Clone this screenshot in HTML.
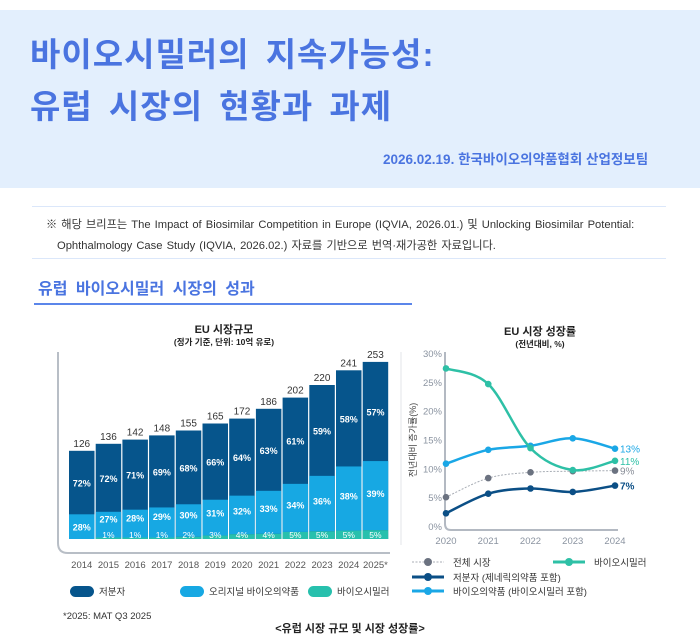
<!DOCTYPE html>
<html><head><meta charset="utf-8"><style>
body{margin:0;width:700px;height:638px;background:#fff;font-family:"Liberation Sans","Noto Sans CJK KR",sans-serif;position:relative;overflow:hidden}
.hdr{position:absolute;left:0;top:10px;width:700px;height:178px;background:#e3effd}
.t{position:absolute;left:30px;color:#4a74e0;font-weight:bold;font-size:33px;letter-spacing:1px;word-spacing:6px;white-space:nowrap}
.date{position:absolute;left:383px;top:148px;color:#4a74e0;font-weight:bold;font-size:13.5px;white-space:nowrap}
.hl{position:absolute;left:32px;width:634px;height:1px;background:#dbe7fa}
.note{position:absolute;left:46px;font-size:11.2px;color:#333;white-space:nowrap;word-spacing:1px}
.sec{position:absolute;left:38px;top:280px;color:#4a74e0;font-size:16px;font-weight:bold;white-space:nowrap;word-spacing:4px;line-height:20px}
.secl{position:absolute;left:34px;top:303px;width:378px;height:2px;background:#5b86ea}
svg{position:absolute;left:0;top:0}
</style></head><body>
<div class="hdr"></div>
<div class="t" style="top:28px">바이오시밀러의 지속가능성:</div>
<div class="t" style="top:80px">유럽 시장의 현황과 과제</div>
<div class="date">2026.02.19. 한국바이오의약품협회 산업정보팀</div>
<div class="hl" style="top:206px"></div>
<div class="note" style="top:216px">※ 해당 브리프는 The Impact of Biosimilar Competition in Europe (IQVIA, 2026.01.) 및 Unlocking Biosimilar Potential:</div>
<div class="note" style="top:237px;left:57px">Ophthalmology Case Study (IQVIA, 2026.02.) 자료를 기반으로 번역·재가공한 자료입니다.</div>
<div class="hl" style="top:258px"></div>
<div class="sec">유럽 바이오시밀러 시장의 성과</div>
<div class="secl"></div>
<svg id="s" width="700" height="638" font-family="Liberation Sans, Noto Sans CJK KR, sans-serif"></svg>
<script>
const s=document.getElementById('s');let h='';
h+='<text x="224" y="333" text-anchor="middle" font-size="11" font-weight="bold" fill="#222">EU 시장규모</text>';
h+='<text x="224" y="345" text-anchor="middle" font-size="8.5" font-weight="bold" fill="#222">(정가 기준, 단위: 10억 유로)</text>';
h+='<path d="M58 352 V543 Q58 553 68 553 H390" fill="none" stroke="#b8bec6" stroke-width="2"/>';
h+='<line x1="401" y1="352" x2="401" y2="545" stroke="#e3e6ea" stroke-width="1"/>';
const v=[126,136,142,148,155,165,172,186,202,220,241,253],sm=[72,72,71,69,68,66,64,63,61,59,58,57],
o=[28,27,28,29,30,31,32,33,34,36,38,39],b=[0,1,1,1,2,3,4,4,5,5,5,5],
yr=['2014','2015','2016','2017','2018','2019','2020','2021','2022','2023','2024','2025*'];
const B=539,k=0.7;
for(let i=0;i<12;i++){const x=69+26.7*i,w=25.5,H=v[i]*k,top=B-H;
const gb=Math.max(H*b[i]/100,b[i]?1.5:0),lb=H*o[i]/100;const yl=B-gb-lb;
h+=`<rect x="${x}" y="${top}" width="${w}" height="${H}" fill="#06558c"/>`;
h+=`<rect x="${x}" y="${yl}" width="${w}" height="${lb}" fill="#17a8e3"/>`;
if(gb)h+=`<rect x="${x}" y="${B-gb}" width="${w}" height="${gb}" fill="#27c0ad"/>`;
const cx=x+w/2;
h+=`<text x="${cx}" y="${top-4}" text-anchor="middle" font-size="10" fill="#333">${v[i]}</text>`;
h+=`<text x="${cx}" y="${(top+yl)/2+4}" text-anchor="middle" font-size="9" font-weight="bold" fill="#fff">${sm[i]}%</text>`;
h+=`<text x="${cx}" y="${b[i]?yl+(B-yl)/2-3:(yl+B)/2+4}" text-anchor="middle" font-size="9" font-weight="bold" fill="#fff">${o[i]}%</text>`;
if(b[i])h+=`<text x="${cx}" y="538" text-anchor="middle" font-size="8.5" fill="#fff">${b[i]}%</text>`;
h+=`<text x="${cx}" y="568" text-anchor="middle" font-size="9.5" fill="#555">${yr[i]}</text>`;}
[[70,'#06558c','저분자'],[180,'#17a8e3','오리지널 바이오의약품'],[308,'#27c0ad','바이오시밀러']].forEach(l=>{
h+=`<rect x="${l[0]}" y="586" width="24" height="11" rx="5.5" fill="${l[1]}"/><text x="${l[0]+29}" y="595" font-size="9.5" fill="#333">${l[2]}</text>`;});
h+='<text x="63" y="619" font-size="9.5" fill="#333">*2025: MAT Q3 2025</text>';
h+='<text x="350" y="632" text-anchor="middle" font-size="11" font-weight="bold" fill="#222">&lt;유럽 시장 규모 및 시장 성장률&gt;</text>';
h+='<text x="540" y="335" text-anchor="middle" font-size="11" font-weight="bold" fill="#222">EU 시장 성장률</text>';
h+='<text x="540" y="347" text-anchor="middle" font-size="8.5" font-weight="bold" fill="#222">(전년대비, %)</text>';
const X=i=>446+42.25*i,Y=p=>526-p*5.77;
h+='<path d="M445 352 V524 Q445 530 451 530 H618" fill="none" stroke="#b3b9c2" stroke-width="2"/>';
for(let p=0;p<=30;p+=5)h+=`<text x="442" y="${Y(p)+4}" text-anchor="end" font-size="9.5" fill="#8a93a0">${p}%</text>`;
for(let i=0;i<5;i++)h+=`<text x="${X(i)}" y="544" text-anchor="middle" font-size="9.5" fill="#8a93a0">${2020+i}</text>`;
h+='<text transform="translate(416 440) rotate(-90)" text-anchor="middle" font-size="9" fill="#444">전년대비 증가률(%)</text>';
function curve(d){let pts=d.map((p,i)=>[X(i),Y(p)]);let s='M'+pts[0];for(let i=0;i<pts.length-1;i++){const p0=pts[i-1]||pts[i],p1=pts[i],p2=pts[i+1],p3=pts[i+2]||p2;
s+=` C${p1[0]+(p2[0]-p0[0])/6},${p1[1]+(p2[1]-p0[1])/6} ${p2[0]-(p3[0]-p1[0])/6},${p2[1]-(p3[1]-p1[1])/6} ${p2[0]},${p2[1]}`;}return s;}
const S=[[[5.0,8.3,9.3,9.5,9.6],'#6b7280',1,'2,1.5','9%',0],[[2.2,5.6,6.5,5.9,7.0],'#0b4f86',2.5,'','7%',1],[[10.8,13.2,13.9,15.2,13.4],'#1aa7e6',2.5,'','13%',0],[[27.3,24.6,13.5,9.7,11.3],'#2ec0a6',2.5,'','11%',0]];
const lc=['#8a8f99','#0b4f86','#1aa7e6','#2ec0a6'];
S.forEach((q,j)=>{h+=`<path d="${curve(q[0])}" fill="none" stroke="${q[1]==='#6b7280'?'#a8adb5':q[1]}" stroke-width="${q[2]}" ${q[3]?'stroke-dasharray="'+q[3]+'"':''}/>`;
q[0].forEach((p,i)=>h+=`<circle cx="${X(i)}" cy="${Y(p)}" r="3.3" fill="${q[1]}"/>`);
h+=`<text x="620" y="${Y(q[0][4])+4}" font-size="10" ${q[5]?'font-weight="bold"':''} fill="${lc[j]}">${q[4]}</text>`;});
const L=[[412,562,'#6b7280',1,'전체 시장',1],[553,562,'#2ec0a6',3,'바이오시밀러',0],[412,577,'#0b4f86',3,'저분자 (제네릭의약품 포함)',0],[412,591,'#1aa7e6',3,'바이오의약품 (바이오시밀러 포함)',0]];
L.forEach(l=>{h+=`<line x1="${l[0]}" y1="${l[1]}" x2="${l[0]+32}" y2="${l[1]}" stroke="${l[5]?'#a8adb5':l[2]}" stroke-width="${l[3]}" ${l[5]?'stroke-dasharray="2,1.5"':''}/><circle cx="${l[0]+16}" cy="${l[1]}" r="4" fill="${l[2]}"/><text x="${l[0]+41}" y="${l[1]+4}" font-size="9.5" fill="#333">${l[4]}</text>`;});
s.innerHTML=h;
</script>
</body></html>
